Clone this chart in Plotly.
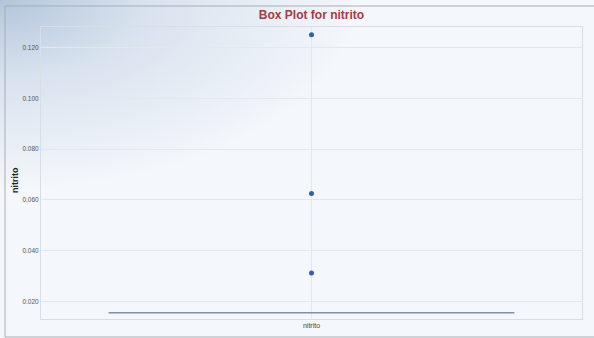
import base64
import plotly.graph_objects as go

# Measured nitrito concentrations (most readings sit at the detection floor)
variable = "nitrito"
baseline_value = 0.015625
baseline_count = 24
outlier_values = [0.03125, 0.0625, 0.125]
values = [baseline_value] * baseline_count + outlier_values

# Tick labels on the value axis
y_ticks = [0.020, 0.040, 0.060, 0.080, 0.100, 0.120]
y_tick_text = ["0.020", "0.040", "0.060", "0.080", "0.100", "0.120"]

W, H = 594, 338
ML, MR, MT, MB = 41, 12, 27, 19
PW, PH = W - ML - MR, H - MT - MB

# Soft blue glow in the top-left corner of the page background
svg = f"""<svg xmlns='http://www.w3.org/2000/svg' width='{W}' height='{H}'>
<defs>
<radialGradient id='g' cx='0' cy='0' r='1' gradientUnits='userSpaceOnUse'
 gradientTransform='translate(0 0) scale(360 190)'>
<stop offset='0' stop-color='#b3c5dc'/>
<stop offset='0.4' stop-color='#d8e2ee'/>
<stop offset='1' stop-color='#f4f7fb'/>
</radialGradient>
</defs>
<rect width='{W}' height='{H}' fill='#f4f7fb'/>
<rect width='{W}' height='{H}' fill='url(#g)'/>
</svg>"""
bg_uri = "data:image/svg+xml;base64," + base64.b64encode(svg.encode()).decode()


def px_x(px):
    return (px - ML) / PW


def px_y(py):
    return (H - MB - py) / PH


fig = go.Figure()
fig.add_trace(
    go.Box(
        y=values,
        x=[variable] * len(values),
        name=variable,
        boxpoints="outliers",
        marker=dict(color="#2f5fae", size=5),
        line=dict(color="#7d90b4", width=1.5),
        fillcolor="rgba(125,144,180,0.3)",
        showlegend=False,
    )
)

fig.update_layout(
    width=W,
    height=H,
    margin=dict(l=ML, r=MR, t=MT, b=MB, autoexpand=False),
    paper_bgcolor="#f4f7fb",
    plot_bgcolor="rgba(255,255,255,0.3)",
    boxgap=0.25,
    boxgroupgap=0,
    title=dict(
        text="<b>Box Plot for nitrito</b>",
        x=0.5,
        xref="paper",
        y=1 - 15 / H,
        yanchor="middle",
        font=dict(family="Liberation Sans, Arial, sans-serif", size=12, color="#a53a3f"),
    ),
    font=dict(family="Liberation Sans Narrow, Liberation Sans, Arial, sans-serif", color="#555"),
    images=[
        dict(
            source=bg_uri,
            xref="paper",
            yref="paper",
            x=px_x(0),
            y=px_y(0),
            sizex=W / PW,
            sizey=H / PH,
            xanchor="left",
            yanchor="top",
            sizing="stretch",
            layer="below",
        )
    ],
    shapes=[
        dict(
            type="rect",
            xref="paper",
            yref="paper",
            x0=px_x(5),
            x1=px_x(600),
            y0=px_y(337),
            y1=px_y(6),
            line=dict(color="#a9adb3", width=1),
            fillcolor="rgba(0,0,0,0)",
            layer="below",
        )
    ],
    annotations=[
        dict(
            text="<b>nitrito</b>",
            xref="paper",
            yref="paper",
            x=px_x(15),
            y=px_y(180),
            xanchor="center",
            yanchor="middle",
            textangle=-90,
            showarrow=False,
            font=dict(family="Liberation Sans, Arial, sans-serif", size=9, color="#222"),
        )
    ],
    xaxis=dict(
        automargin=False,
        showgrid=True,
        gridcolor="#e3e8ef",
        showline=True,
        linecolor="#d9dee5",
        mirror=True,
        tickfont=dict(size=7, color="#444"),
        ticks="",
        zeroline=False,
    ),
    yaxis=dict(
        automargin=False,
        range=[0.0132, 0.128],
        tickvals=y_ticks,
        ticktext=y_tick_text,
        showgrid=True,
        gridcolor="#e3e8ef",
        showline=True,
        linecolor="#d9dee5",
        mirror=True,
        zeroline=False,
        ticks="",
        tickfont=dict(size=6.5, color="#555"),
    ),
)

fig.write_html("out.html")
